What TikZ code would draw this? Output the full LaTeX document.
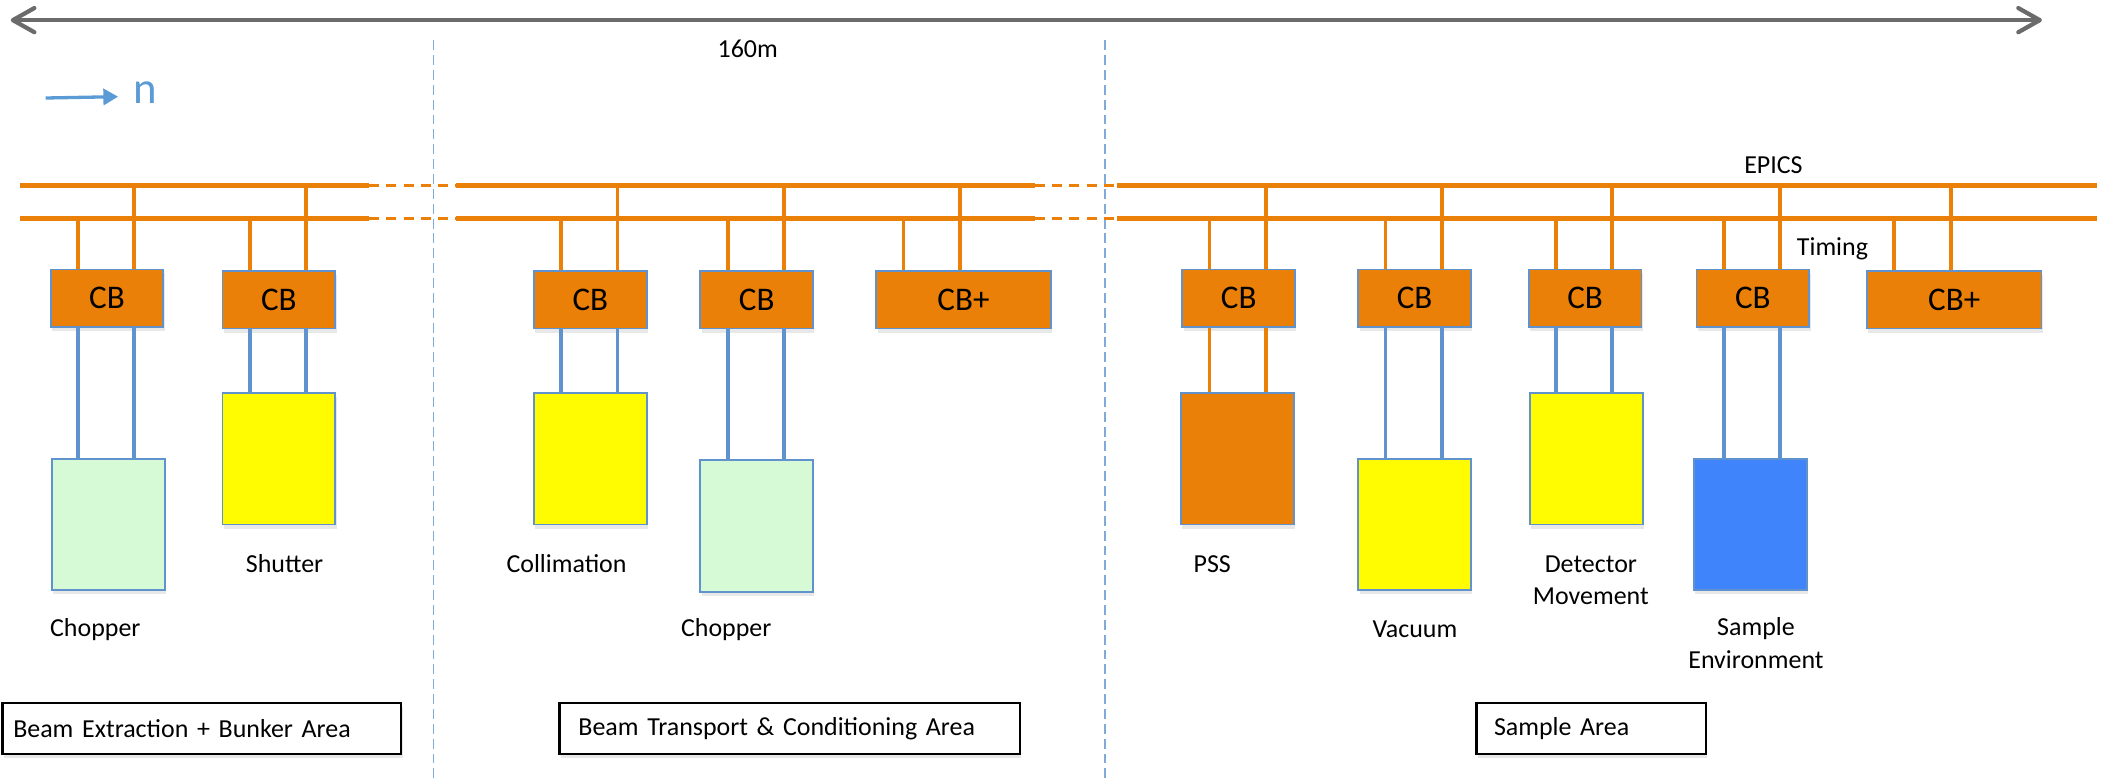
\documentclass[tikz,border=0pt]{standalone}
\usepackage{fontspec}
\setmainfont{Carlito}
\usetikzlibrary{calc,
                arrows.meta,
                shadows
                }

\definecolor{cborange}{RGB}{234,128,8}
\definecolor{linkblau}{RGB}{96,146,206}
\definecolor{trennblau}{RGB}{130,170,215}
\definecolor{pfeilgrau}{RGB}{107,107,107}
\definecolor{nblau}{RGB}{91,155,213}
\definecolor{chopgruen}{RGB}{214,250,214}
\definecolor{gelb}{RGB}{255,251,0}
\definecolor{envblau}{RGB}{64,132,252}

\tikzset{
    schatten/.style={drop shadow={opacity=0.18, shadow xshift=0.02cm, shadow yshift=-0.06cm}},
    cbbox/.style={draw=linkblau, line width=0.8pt, fill=cborange, anchor=north west,
                  minimum width=1.68cm, minimum height=0.86cm, inner sep=0pt,
                  font=\fontsize{14}{16}\selectfont, schatten},
    devbox/.style={draw=linkblau, line width=0.8pt, anchor=north west,
                   minimum width=1.68cm, minimum height=1.96cm, inner sep=0pt, schatten},
    areabox/.style={draw=black, line width=1pt, fill=white, anchor=north west,
                    minimum height=0.76cm, inner ysep=0pt, align=left,
                    font=\fontsize{11}{13}\selectfont, schatten},
    lab/.style={font=\fontsize{11}{13.6}\selectfont, align=center},
    bus/.style={draw=cborange, line width=2.2pt},
    busluecke/.style={draw=cborange, line width=1.2pt, dash pattern=on 4.2pt off 3.1pt},
    stub/.style={draw=cborange, line width=1.6pt},
    link/.style={draw=linkblau, line width=1.6pt},
    trenner/.style={draw=trennblau, line width=0.6pt, dash pattern=on 4.2pt off 2.1pt}
}

\begin{document}
\begin{tikzpicture}[x=0.02cm, y=-0.02cm]
    \useasboundingbox (0,0) rectangle (1568,582);

    % Gesamtlaenge oben
    \coordinate (massL) at (8,15);
    \coordinate (massR) at (1521,15);
    \draw[pfeilgrau, line width=1.8pt,
          {Straight Barb[length=0.32cm, width=0.36cm, round]}-{Straight Barb[length=0.32cm, width=0.36cm, round]}]
          (massL) -- (massR);
    \node[lab] (laenge) at (557,36) {160m};

    % Neutronenrichtung
    \coordinate (nstart) at (34,73);
    \coordinate (nende) at (88,72);
    \node[font=\fontsize{19}{21}\selectfont, text=nblau] (n) at (108,69) {n};
    \draw[nblau, line width=1.4pt, -{Triangle[length=0.22cm, width=0.24cm]}] (nstart) -- (nende);

    % Bereichsgrenzen
    \coordinate (grenzeAo) at (323,30);
    \coordinate (grenzeAu) at (323,582);
    \coordinate (grenzeBo) at (823,30);
    \coordinate (grenzeBu) at (823,582);
    \draw[trenner] (grenzeAo) -- (grenzeAu);
    \draw[trenner] (grenzeBo) -- (grenzeBu);

    % EPICS- und Timing-Bus
    \coordinate (e1a) at (15,138);  \coordinate (e1b) at (275,138);
    \coordinate (e2a) at (340,138); \coordinate (e2b) at (771,138);
    \coordinate (e3a) at (832,138); \coordinate (e3b) at (1562,138);
    \coordinate (t1a) at (15,163);  \coordinate (t1b) at (275,163);
    \coordinate (t2a) at (340,163); \coordinate (t2b) at (771,163);
    \coordinate (t3a) at (832,163); \coordinate (t3b) at (1562,163);
    \draw[bus] (e1a) -- (e1b);  \draw[busluecke] (e1b) -- (e2a);
    \draw[bus] (e2a) -- (e2b);  \draw[busluecke] (e2b) -- (e3a);
    \draw[bus] (e3a) -- (e3b);
    \draw[bus] (t1a) -- (t1b);  \draw[busluecke] (t1b) -- (t2a);
    \draw[bus] (t2a) -- (t2b);  \draw[busluecke] (t2b) -- (t3a);
    \draw[bus] (t3a) -- (t3b);
    \node[lab] (epics) at (1321,123) {EPICS};
    \node[lab] (timing) at (1365,185) {Timing};

    % Controlboxen
    \node[cbbox] (cbA) at (37,200) {CB};
    \node[cbbox] (cbB) at (165,201) {CB};
    \node[cbbox] (cbC) at (397,201) {CB};
    \node[cbbox] (cbD) at (521,201) {CB};
    \node[cbbox, minimum width=2.6cm] (cbE) at (652,201) {CB+};
    \node[cbbox] (cbF) at (880,200) {CB};
    \node[cbbox] (cbG) at (1011,200) {CB};
    \node[cbbox] (cbH) at (1138,200) {CB};
    \node[cbbox] (cbI) at (1263,200) {CB};
    \node[cbbox, minimum width=2.6cm] (cbJ) at (1390,201) {CB+};

    % Anschluesse an die Busse
    \foreach \c in {cbA,cbB,cbC,cbD,cbE,cbF,cbG,cbH,cbI,cbJ} {
        \coordinate (\c-t) at ([xshift=0.42cm]\c.north west);
        \coordinate (\c-e) at ([xshift=1.26cm]\c.north west);
        \draw[stub] (\c-t) -- (\c-t |- t1a);
        \draw[stub] (\c-e) -- (\c-e |- e1a);
    }

    % Geraete
    \node[devbox, fill=chopgruen] (chopA) at (38,341) {};
    \node[devbox, fill=gelb] (shutter) at (165,292) {};
    \node[devbox, fill=gelb] (collim) at (397,292) {};
    \node[devbox, fill=chopgruen] (chopB) at (521,342) {};
    \node[devbox, fill=cborange] (pss) at (879,292) {};
    \node[devbox, fill=gelb] (vacuum) at (1011,341) {};
    \node[devbox, fill=gelb] (detector) at (1139,292) {};
    \node[devbox, fill=envblau] (sampleenv) at (1261,341) {};

    % Verbindungen Controlbox - Geraet
    \foreach \c/\d/\s in {cbA/chopA/link, cbB/shutter/link, cbC/collim/link,
                          cbD/chopB/link, cbF/pss/stub, cbG/vacuum/link,
                          cbH/detector/link, cbI/sampleenv/link} {
        \draw[\s] (\c-t |- \c.south) -- (\c-t |- \d.north);
        \draw[\s] (\c-e |- \c.south) -- (\c-e |- \d.north);
    }

    % Beschriftung der Geraete
    \node[lab] (labChopA) at (71,469) {Chopper};
    \node[lab] (labShutter) at (212,420) {Shutter};
    \node[lab] (labCollim) at (422,420) {Collimation};
    \node[lab] (labChopB) at (541,469) {Chopper};
    \node[lab] (labPSS) at (903,420) {PSS};
    \node[lab] (labVacuum) at (1054,469) {Vacuum};
    \node[lab] (labDetector) at (1185,432) {Detector\\Movement};
    \node[lab] (labSample) at (1308,479) {Sample\\Environment};

    % Bereiche
    \node[areabox, text width=5.62cm, inner xsep=0.16cm] (areaA) at (1,523) {Beam Extraction + Bunker Area};
    \node[areabox, text width=6.3cm, inner xsep=0.28cm] (areaB) at (416,523) {Beam Transport \& Conditioning Area};
    \node[areabox, text width=2.9cm, inner xsep=0.26cm] (areaC) at (1099,523) {Sample Area};
\end{tikzpicture}
\end{document}
